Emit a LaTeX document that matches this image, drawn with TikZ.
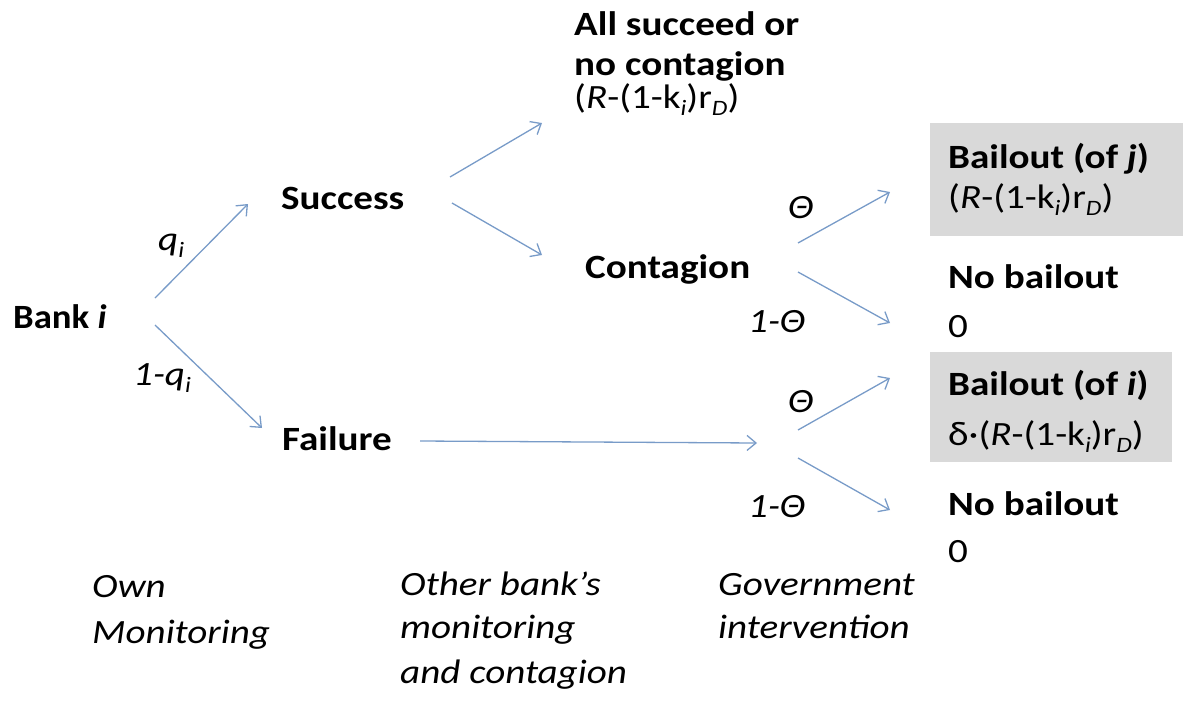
\documentclass[tikz,border=0pt]{standalone}
\usepackage{graphicx}
\usepackage{fontspec}
\setmainfont{Carlito}[FakeStretch=1.15]
\usetikzlibrary{arrows.meta}
\definecolor{arrowblue}{RGB}{120,155,200}
\definecolor{boxgray}{RGB}{217,217,217}
\newcommand\lowsub[1]{\raisebox{-0.22em}{\fontsize{22}{22}\selectfont #1}}
\newcommand\payoff{(\textit{R}-(1-k\lowsub{\textit{i}})r\lowsub{\textit{D}})}
\tikzset{
  txt/.style={anchor=base west, inner sep=0pt, font=\fontsize{34}{40}\selectfont},
  btxt/.style={txt, font=\fontsize{34}{40}\selectfont\bfseries},
  itxt/.style={txt, font=\fontsize{34}{40}\selectfont\itshape},
  branch/.style={draw=arrowblue, line width=1.3pt, -{Straight Barb[length=9pt,width=15pt,line width=1.3pt]}},
  payoffbox/.style={fill=boxgray, inner sep=0pt, anchor=north west}
}
\begin{document}
\begin{tikzpicture}[x=1pt,y=-1pt]
\useasboundingbox (0,0) rectangle (1183,707);
% shaded boxes
\node[payoffbox, minimum width=253pt, minimum height=113pt] (bjbox) at (930,123) {};
\node[payoffbox, minimum width=242pt, minimum height=110pt] (bibox) at (930,352) {};
% nodes
\node[btxt] (bank) at (13,328) {\scalebox{0.94}[1]{Bank \textit{i}}};
\node[btxt] (succ) at (281,209) {Success};
\node[btxt] (fail) at (282,450) {Failure};
\node[btxt] (all1) at (574,35) {All succeed or};
\node[btxt] (all2) at (574,75) {no contagion};
\node[txt] (all3) at (574,108) {\payoff};
\node[btxt] (cont) at (585,278) {Contagion};
\node[btxt] (bj1) at (948,168) {Bailout (of \textit{j})};
\node[txt] (bj2) at (948,208) {\payoff};
\node[btxt] (nb1) at (948,288) {No bailout};
\node[txt] (nb1v) at (948,337) {0};
\node[btxt] (bi1) at (948,395) {Bailout (of \textit{i})};
\node[txt] (bi2) at (948,445) {δ·\payoff};
\node[btxt] (nb2) at (948,515) {No bailout};
\node[txt] (nb2v) at (948,562) {0};
% probability labels
\node[itxt] (lq) at (158,250) {q\lowsub{i}};
\node[itxt] (l1q) at (133,385) {1-q\lowsub{i}};
\node[itxt] (lt1) at (788,218) {Θ};
\node[itxt] (l1t1) at (748,332) {1-Θ};
\node[itxt] (lt2) at (788,412) {Θ};
\node[itxt] (l1t2) at (748,517) {1-Θ};
% stage labels
\node[itxt] (own1) at (92,597) {Own};
\node[itxt] (own2) at (92,643) {Monitoring};
\node[itxt] (oth1) at (400,595) {Other bank’s};
\node[itxt] (oth2) at (400,638) {monitoring};
\node[itxt] (oth3) at (400,683) {and contagion};
\node[itxt] (gov1) at (718,595) {Government};
\node[itxt] (gov2) at (718,638) {intervention};
% connector end points
\coordinate (bankU) at (155,298);
\coordinate (bankD) at (155,325);
\coordinate (succIn) at (248,204);
\coordinate (failIn) at (262,428);
\coordinate (succU) at (450,177);
\coordinate (succD) at (452,203);
\coordinate (allIn) at (542,123);
\coordinate (contIn) at (542,255);
\coordinate (contU) at (798,243);
\coordinate (contD) at (798,272);
\coordinate (bjIn) at (890,192);
\coordinate (nb1In) at (890,323);
\coordinate (failOut) at (420,441);
\coordinate (gov) at (757,443);
\coordinate (govU) at (798,430);
\coordinate (govD) at (798,458);
\coordinate (biIn) at (890,378);
\coordinate (nb2In) at (890,510);
% connectors
\draw[branch] (bankU) -- (succIn);
\draw[branch] (bankD) -- (failIn);
\draw[branch] (succU) -- (allIn);
\draw[branch] (succD) -- (contIn);
\draw[branch] (contU) -- (bjIn);
\draw[branch] (contD) -- (nb1In);
\draw[branch] (failOut) -- (gov);
\draw[branch] (govU) -- (biIn);
\draw[branch] (govD) -- (nb2In);
\end{tikzpicture}
\end{document}
